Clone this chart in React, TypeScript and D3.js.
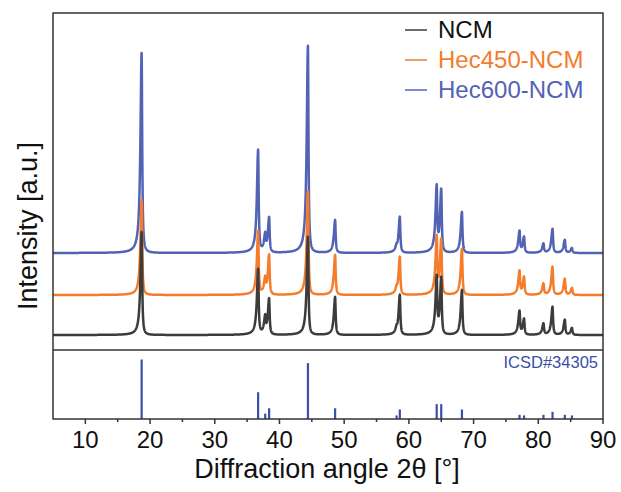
import React from 'react';
import * as d3 from 'd3';

const width = 621;
const height = 492;

// peak positions (2θ)
const peakPositions = [18.7, 36.7, 37.8, 38.4, 44.4, 48.6, 58.1, 58.6, 64.3, 65.0, 68.2, 77.1, 77.8, 80.8, 82.2, 84.1, 85.2];
// peak heights per sample (a.u.)
const ncmHeights = [103, 65, 16, 36, 98, 38, 4, 40, 55, 57, 45, 23, 16, 11, 28, 15, 7];
const hec450Heights = [95, 63, 14, 40, 103, 40, 4, 38, 55, 55, 46, 23, 18, 11, 28, 16, 7];
const hec600Heights = [200, 102, 16, 35, 207, 33, 4, 36, 63, 63, 41, 21, 16, 9, 24, 13, 5];
// stacking offsets of each pattern (a.u.)
const seriesNames = ['NCM', 'Hec450-NCM', 'Hec600-NCM'];
const seriesOffsets = [15, 55, 97];
const seriesColors = ['#3c3c3c', '#f47c2b', '#5363b4'];

// ICSD#34305 reference pattern (relative intensity)
const icsdPositions = [18.7, 36.7, 37.8, 38.4, 44.4, 48.6, 58.1, 58.6, 64.3, 65.0, 68.2, 77.1, 77.8, 80.8, 82.2, 84.1, 85.2];
const icsdIntensity = [100, 45, 9, 18, 94, 18, 6, 16, 25, 25, 16, 7, 6, 7, 12, 7, 6];

const xTicks = [10, 20, 30, 40, 50, 60, 70, 80, 90];
const xMinorTicks = [15, 25, 35, 45, 55, 65, 75, 85];

const left = 53;
const right = 603;
const top = 13;
const divider = 350;
const bottom = 419;

const x = d3.scaleLinear().domain([5, 90]).range([left, right]);
const yUp = d3.scaleLinear().domain([0, 337]).range([divider, top]);
const yLow = d3.scaleLinear().domain([0, 116]).range([bottom, divider]);

const font = 'Liberation Sans, Arial, sans-serif';

// asymmetric lorentzian profile for each peak
const profile = (t, pos) => {
	const g = t < pos ? 0.22 : 0.1;
	const d = (t - pos) / g;
	return 1 / (1 + d * d);
};

const angles = d3.range(5, 90.001, 0.02);

const buildPattern = (heights, offset) =>
	angles.map((t) => [t, offset + d3.sum(peakPositions, (p, i) => heights[i] * profile(t, p))]);

const App = () => {
	const line = d3
		.line()
		.x((d) => x(d[0]))
		.y((d) => yUp(d[1]));
	const patterns = [
		buildPattern(ncmHeights, seriesOffsets[0]),
		buildPattern(hec450Heights, seriesOffsets[1]),
		buildPattern(hec600Heights, seriesOffsets[2]),
	];
	// draw blue first, black last (black on top)
	const order = [2, 1, 0];
	return (
		<svg width={width} height={height} style={{ display: 'block', position: 'absolute', left: 0, top: 0 }}>
			<rect width={width} height={height} fill="#fff" />
			{order.map((i) => (
				<path key={i} d={line(patterns[i])} fill="none" stroke={seriesColors[i]} strokeWidth={2.5} strokeLinejoin="round" />
			))}
			{icsdPositions.map((p, i) => (
				<line
					key={i}
					x1={x(p)}
					x2={x(p)}
					y1={yLow(0)}
					y2={yLow(icsdIntensity[i])}
					stroke="#3a4fa6"
					strokeWidth={2.2}
				/>
			))}
			<rect x={left} y={top} width={right - left} height={bottom - top} fill="none" stroke="#333" strokeWidth={1.5} />
			<line x1={left} x2={right} y1={divider} y2={divider} stroke="#333" strokeWidth={1.5} />
			{xTicks.map((t) => (
				<g key={t}>
					<line x1={x(t)} x2={x(t)} y1={bottom} y2={bottom + 5} stroke="#333" strokeWidth={1.5} />
					<text x={x(t)} y={448} textAnchor="middle" fontFamily={font} fontSize={24} fill="#111">
						{t}
					</text>
				</g>
			))}
			{xMinorTicks.map((t) => (
				<line key={t} x1={x(t)} x2={x(t)} y1={bottom} y2={bottom + 3} stroke="#333" strokeWidth={1.5} />
			))}
			<text x={327} y={478} textAnchor="middle" fontFamily={font} fontSize={27} fill="#111">
				Diffraction angle 2θ [°]
			</text>
			<text
				transform={`translate(37,226) rotate(-90)`}
				textAnchor="middle"
				fontFamily={font}
				fontSize={27}
				fill="#111"
			>
				Intensity [a.u.]
			</text>
			<text x={598} y={368} textAnchor="end" fontFamily={font} fontSize={16.5} fill="#3a4fa6">
				ICSD#34305
			</text>
			{seriesNames.map((name, i) => (
				<g key={name}>
					<line x1={405} x2={427} y1={30 + i * 30} y2={30 + i * 30} stroke={seriesColors[i]} strokeWidth={1.5} />
					<text x={438} y={38 + i * 30} fontFamily={font} fontSize={24} fill={i === 0 ? '#111' : seriesColors[i]}>
						{name}
					</text>
				</g>
			))}
		</svg>
	);
};

export default App;
